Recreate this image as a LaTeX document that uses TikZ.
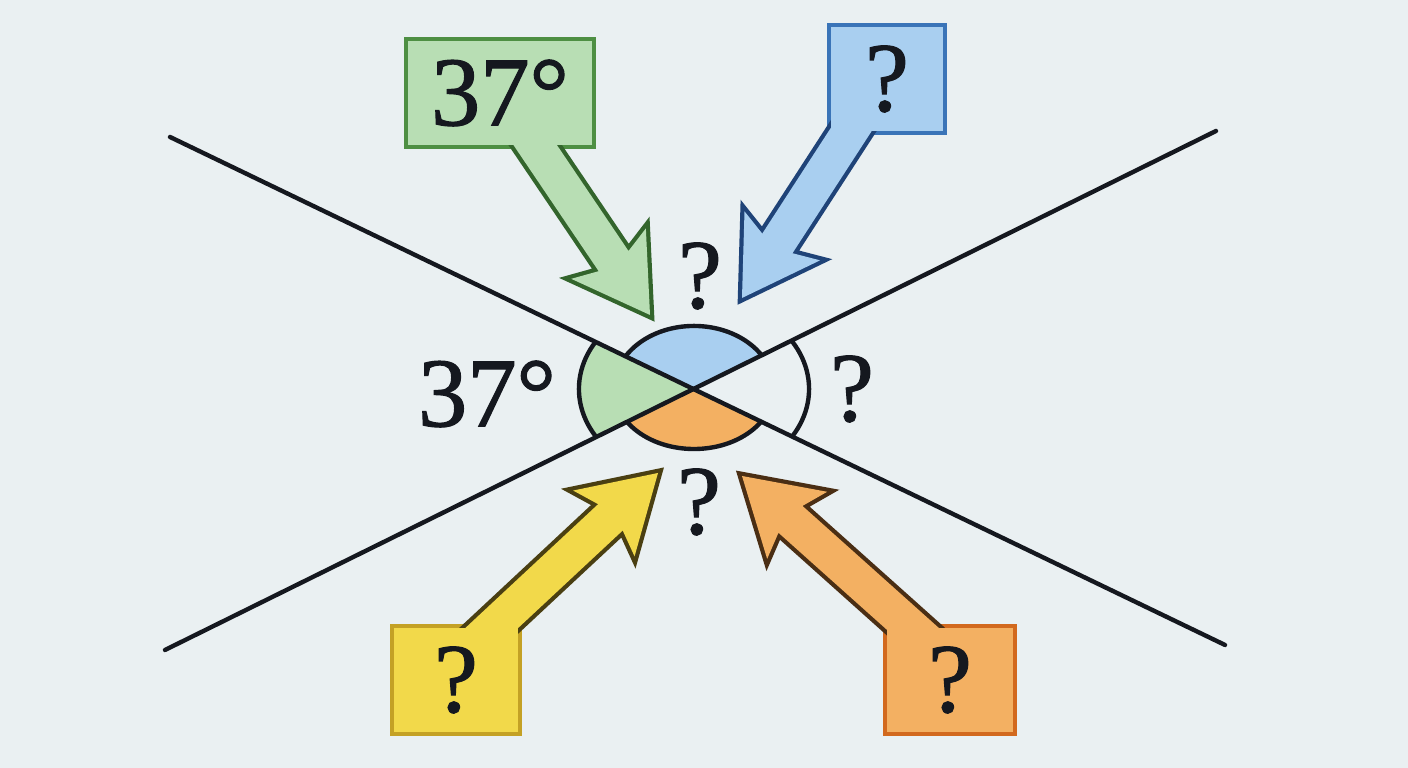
\documentclass[tikz,border=0pt]{standalone}
\usepackage{fontspec}
\setmainfont{Liberation Serif}
\newfontfamily\lblserif{Liberation Serif}[FakeBold=1.2]
\usetikzlibrary{calc}
\pgfdeclarelayer{bg}
\pgfsetlayers{bg,main}
\definecolor{bgc}{HTML}{EAF0F2}
\definecolor{inkc}{HTML}{15181F}
\definecolor{gfill}{HTML}{B8DEB4}
\definecolor{gbox}{HTML}{4E8F43}
\definecolor{garr}{HTML}{33652C}
\definecolor{bfill}{HTML}{A9CFF0}
\definecolor{bbox}{HTML}{3A74B8}
\definecolor{barr}{HTML}{1F4378}
\definecolor{yfill}{HTML}{F2D94A}
\definecolor{ybox}{HTML}{C4A125}
\definecolor{yarr}{HTML}{4A3F12}
\definecolor{ofill}{HTML}{F3B062}
\definecolor{obox}{HTML}{D2691E}
\definecolor{oarr}{HTML}{4A2E14}
\newcommand{\bkarrow}[4]{% #1 prefix, #2 start, #3 tip, #4 options
  \coordinate (#1bb) at ($(#3)!0.74cm!(#2)$);
  \coordinate (#1bn) at ($(#3)!0.65cm!(#2)$);
  \path[#4] ($(#2)!0.18cm!90:(#3)$) -- ($(#1bn)!0.18cm!90:(#3)$) -- ($(#1bb)!0.45cm!90:(#3)$) -- (#3) -- ($(#1bb)!0.45cm!-90:(#3)$) -- ($(#1bn)!0.18cm!-90:(#3)$) -- ($(#2)!0.18cm!-90:(#3)$) -- cycle;
}
\tikzset{
  lbl/.style={inner sep=0pt, text=inkc, font=\lblserif\fontsize{28pt}{30pt}\selectfont},
  qbox/.style={lbl, minimum width=#1, minimum height=1.02cm},
  outl/.style={line width=2.4pt, line join=miter},
  mainline/.style={line width=1.25pt, inkc, line cap=round},
  arcline/.style={line width=1.25pt, inkc}
}
\begin{document}
\begin{tikzpicture}[x=0.01cm, y=0.01cm]
\begin{pgfonlayer}{bg}
\fill[bgc] (0,0) rectangle (1408,768);
\end{pgfonlayer}
\useasboundingbox (0,0) rectangle (1408,768);

% boxes (text)
\node[qbox=1.82cm] (gb) at (500,675) {37°};
\node[qbox=1.11cm] (bb) at (887,689) {?};
\node[qbox=1.23cm] (yb) at (456,88) {?};
\node[qbox=1.24cm] (ob) at (950,88) {?};

% arrow tips and starts
\coordinate (gt) at (650,453);
\coordinate (bt) at (742,470);
\coordinate (yt) at (658,295);
\coordinate (ot) at (742,292);
\coordinate (gs) at (gb.center);
\coordinate (bs) at ($(bb.center)+(-3,0)$);
\coordinate (ys) at ($(yb.center)+(-20,0)$);
\coordinate (os) at ($(ob.center)+(20,0)$);

\begin{pgfonlayer}{bg}
% outline pass
\draw[outl, gbox] (gb.south west) rectangle (gb.north east);
\bkarrow{g}{gs}{gt}{draw=garr, outl}
\draw[outl, bbox] (bb.south west) rectangle (bb.north east);
\bkarrow{b}{bs}{bt}{draw=barr, outl}
\draw[outl, ybox] (yb.south west) rectangle (yb.north east);
\bkarrow{y}{ys}{yt}{draw=yarr, outl}
\draw[outl, obox] (ob.south west) rectangle (ob.north east);
\bkarrow{o}{os}{ot}{draw=oarr, outl}
% fill pass
\bkarrow{g}{gs}{gt}{fill=gfill}
\fill[gfill] (gb.south west) rectangle (gb.north east);
\bkarrow{b}{bs}{bt}{fill=bfill}
\fill[bfill] (bb.south west) rectangle (bb.north east);
\bkarrow{y}{ys}{yt}{fill=yfill}
\fill[yfill] (yb.south west) rectangle (yb.north east);
\bkarrow{o}{os}{ot}{fill=ofill}
\fill[ofill] (ob.south west) rectangle (ob.north east);
\end{pgfonlayer}

% crossing lines
\coordinate (C) at (694,379);
\coordinate (l1a) at (170,631);
\coordinate (l1b) at (1225,123);
\coordinate (l2a) at (165,118);
\coordinate (l2b) at (1216,637);

% sectors
\begin{scope}
  \clip (C) -- (l1a) -- (l2a) -- cycle;
  \fill[gfill] (C) ellipse[x radius=1.15cm, y radius=0.91cm];
  \draw[arcline] (C) ellipse[x radius=1.15cm, y radius=0.91cm];
\end{scope}
\begin{scope}
  \clip (C) -- (l1b) -- (l2b) -- cycle;
  \draw[arcline] (C) ellipse[x radius=1.15cm, y radius=0.91cm];
\end{scope}
\begin{scope}
  \clip (C) -- (l2b) -- (l1a) -- cycle;
  \fill[bfill] (C) ellipse[x radius=0.80cm, y radius=0.63cm];
  \draw[arcline] (C) ellipse[x radius=0.80cm, y radius=0.63cm];
\end{scope}
\begin{scope}
  \clip (C) -- (l2a) -- (l1b) -- cycle;
  \fill[ofill] (C) ellipse[x radius=0.80cm, y radius=0.60cm];
  \draw[arcline] (C) ellipse[x radius=0.80cm, y radius=0.60cm];
\end{scope}

\draw[mainline] (l1a) -- (l1b);
\draw[mainline] (l2a) -- (l2b);

% angle labels
\node[lbl] (aleft) at (487,374) {37°};
\node[lbl] (atop) at (700,492) {?};
\node[lbl] (aright) at (852,379) {?};
\node[lbl] (abot) at (699,266) {?};
\end{tikzpicture}
\end{document}
